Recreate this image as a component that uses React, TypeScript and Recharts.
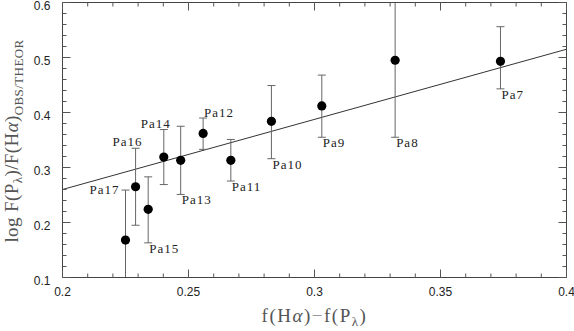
import React from 'react';
import { ScatterChart, Scatter, XAxis, YAxis, ErrorBar, ReferenceLine } from 'recharts';

const names = ['Pa17', 'Pa16', 'Pa15', 'Pa14', 'Pa13', 'Pa12', 'Pa11', 'Pa10', 'Pa9', 'Pa8', 'Pa7'];
const xVals = [0.225, 0.229, 0.234, 0.2402, 0.2469, 0.2558, 0.2668, 0.2829, 0.3029, 0.332, 0.3738];
const yVals = [0.168, 0.265, 0.224, 0.319, 0.313, 0.362, 0.313, 0.384, 0.412, 0.495, 0.493];
const errLow = [0.068, 0.07, 0.061, 0.05, 0.062, 0.029, 0.0376, 0.068, 0.057, 0.14, 0.05];
const errHigh = [0.091, 0.07, 0.059, 0.05, 0.062, 0.028, 0.038, 0.065, 0.056, 0.105, 0.063];
// where each line name sits: top cap (left / above / right) or bottom cap
const labelPlace = ['tl', 'ta', 'br', 'ta', 'br', 'tr', 'br', 'br', 'br', 'br', 'br'];

const fitLine = [{ x: 0.2, y: 0.26 }, { x: 0.4, y: 0.515 }];

const xMajor = [0.2, 0.25, 0.3, 0.35, 0.4];
const xTicks = [0.2, 0.21, 0.22, 0.23, 0.24, 0.25, 0.26, 0.27, 0.28, 0.29, 0.3, 0.31, 0.32, 0.33, 0.34, 0.35, 0.36, 0.37, 0.38, 0.39, 0.4];
const yMajor = [0.1, 0.2, 0.3, 0.4, 0.5, 0.6];
const yTicks = [0.1, 0.12, 0.14, 0.16, 0.18, 0.2, 0.22, 0.24, 0.26, 0.28, 0.3, 0.32, 0.34, 0.36, 0.38, 0.4, 0.42, 0.44, 0.46, 0.48, 0.5, 0.52, 0.54, 0.56, 0.58, 0.6];

const points = names.map((n, i) => ({
  name: n,
  x: xVals[i],
  y: yVals[i],
  err: [errLow[i], errHigh[i]],
}));

const labelAnchors = names.map((n, i) => {
  const p = labelPlace[i];
  return {
    name: n,
    place: p,
    x: xVals[i],
    y: p[0] === 't' ? yVals[i] + errHigh[i] : yVals[i] - errLow[i],
  };
});

const isMajor = (v: number, arr: number[]) => arr.some((m) => Math.abs(m - v) < 1e-9);

const TICK_COLOR = '#555';
const FRAME = '#444';
const tickFont = { fontFamily: 'Liberation Sans, Arial, sans-serif', fontSize: 12, fill: '#222' };

const BottomTick = (props: any) => {
  const { x, y, payload } = props;
  const major = isMajor(payload.value, xMajor);
  return (
    <g>
      <line x1={x} x2={x} y1={y} y2={y - (major ? 8 : 4)} stroke={TICK_COLOR} />
      {major && (
        <text x={x} y={y + 18.5} textAnchor="middle" {...tickFont}>
          {String(payload.value)}
        </text>
      )}
    </g>
  );
};

const TopTick = (props: any) => {
  const { x, y, payload } = props;
  const major = isMajor(payload.value, xMajor);
  return <line x1={x} x2={x} y1={y} y2={y + (major ? 8 : 4)} stroke={TICK_COLOR} />;
};

const LeftTick = (props: any) => {
  const { x, y, payload } = props;
  const major = isMajor(payload.value, yMajor);
  return (
    <g>
      <line x1={x} x2={x + (major ? 8 : 4)} y1={y} y2={y} stroke={TICK_COLOR} />
      {major && (
        <text x={x - 12} y={y + 7} textAnchor="end" {...tickFont}>
          {String(payload.value)}
        </text>
      )}
    </g>
  );
};

const RightTick = (props: any) => {
  const { x, y, payload } = props;
  const major = isMajor(payload.value, yMajor);
  return <line x1={x} x2={x - (major ? 8 : 4)} y1={y} y2={y} stroke={TICK_COLOR} />;
};

const Dot = (props: any) => {
  const { cx, cy } = props;
  return <circle cx={cx} cy={cy} r={4.6} fill="#000" />;
};

const NameLabel = (props: any) => {
  const { cx, cy, payload } = props;
  const place = payload.place;
  let x = cx + 1;
  let y = cy + 10;
  let anchor = 'start';
  if (place === 'tl') {
    x = cx - 6;
    y = cy + 4;
    anchor = 'end';
  } else if (place === 'ta') {
    x = cx - 8;
    y = cy - 2;
    anchor = 'middle';
  } else if (place === 'tr') {
    x = cx + 1;
    y = cy - 1;
    anchor = 'start';
  }
  return (
    <text
      x={x}
      y={y}
      textAnchor={anchor as any}
      fontFamily="Liberation Serif, Times New Roman, serif"
      fontSize={13}
      letterSpacing={1}
      fill="#222"
    >
      {payload.name}
    </text>
  );
};

const YTitle = (props: any) => {
  const vb = props.viewBox || { x: 0, y: 0, height: 275 };
  const cx = 17.5;
  const cy = vb.y + vb.height / 2 + 1;
  return (
    <text
      x={cx}
      y={cy}
      transform={`rotate(-90 ${cx} ${cy})`}
      textAnchor="middle"
      fontFamily="Liberation Serif, Times New Roman, serif"
      fontSize={19}
      letterSpacing={0.4}
      fill="#555"
    >
      <tspan>log F(P</tspan>
      <tspan dy={4} fontSize={13}>λ</tspan>
      <tspan dy={-4}>)/F(H</tspan>
      <tspan fontStyle="italic">α</tspan>
      <tspan>)</tspan>
      <tspan dy={5} fontSize={13}>OBS/THEOR</tspan>
    </text>
  );
};

const XTitle = (props: any) => {
  const vb = props.viewBox || { x: 62.5, y: 277.5, width: 504 };
  const cx = vb.x + vb.width / 2;
  const y = 322;
  return (
    <text
      x={cx}
      y={y}
      textAnchor="middle"
      fontFamily="Liberation Serif, Times New Roman, serif"
      fontSize={19}
      letterSpacing={1.5}
      fill="#555"
    >
      <tspan>f(H</tspan>
      <tspan fontStyle="italic">α</tspan>
      <tspan>)</tspan>
      <tspan fill="#999">−</tspan>
      <tspan>f(P</tspan>
      <tspan dy={4} fontSize={13}>λ</tspan>
      <tspan dy={-4}>)</tspan>
    </text>
  );
};

export default function App() {
  return (
    <div style={{ position: 'absolute', left: 0, top: 0, width: 574, height: 331, background: '#fff' }}>
      <ScatterChart
        width={574}
        height={331}
        margin={{ top: 1.5, right: 6.5, bottom: 52.5, left: 61.5 }}
      >
        <XAxis
          xAxisId="b"
          type="number"
          dataKey="x"
          domain={[0.2, 0.4]}
          ticks={xTicks}
          interval={0}
          allowDataOverflow
          height={1}
          tickSize={0}
          tickMargin={0}
          tickLine={false}
          axisLine={{ stroke: FRAME }}
          tick={<BottomTick />}
          label={{ content: <XTitle /> }}
        />
        <XAxis
          xAxisId="t"
          orientation="top"
          type="number"
          dataKey="x"
          domain={[0.2, 0.4]}
          ticks={xTicks}
          interval={0}
          allowDataOverflow
          height={1}
          tickSize={0}
          tickMargin={0}
          tickLine={false}
          axisLine={{ stroke: FRAME }}
          tick={<TopTick />}
        />
        <YAxis
          yAxisId="l"
          type="number"
          dataKey="y"
          domain={[0.1, 0.6]}
          ticks={yTicks}
          interval={0}
          allowDataOverflow
          width={1}
          tickSize={0}
          tickMargin={0}
          tickLine={false}
          axisLine={{ stroke: FRAME }}
          tick={<LeftTick />}
          label={{ content: <YTitle /> }}
        />
        <YAxis
          yAxisId="r"
          orientation="right"
          type="number"
          dataKey="y"
          domain={[0.1, 0.6]}
          ticks={yTicks}
          interval={0}
          allowDataOverflow
          width={1}
          tickSize={0}
          tickMargin={0}
          tickLine={false}
          axisLine={{ stroke: FRAME }}
          tick={<RightTick />}
        />
        <ReferenceLine
          xAxisId="b"
          yAxisId="l"
          segment={fitLine}
          stroke="#333"
          strokeWidth={1}
          ifOverflow="hidden"
        />
        <Scatter
          xAxisId="b"
          yAxisId="l"
          data={points}
          shape={<Dot />}
          isAnimationActive={false}
        >
          <ErrorBar dataKey="err" direction="y" width={4} stroke="#666" strokeWidth={1} />
        </Scatter>
        <Scatter
          xAxisId="t"
          yAxisId="r"
          data={labelAnchors}
          shape={<NameLabel />}
          isAnimationActive={false}
        />
      </ScatterChart>
    </div>
  );
}
